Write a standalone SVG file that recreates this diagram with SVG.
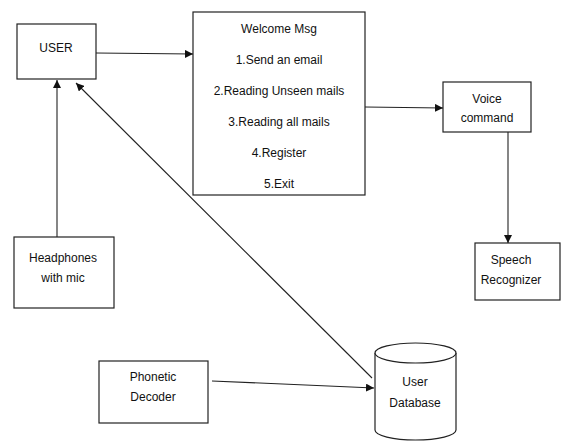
<svg xmlns="http://www.w3.org/2000/svg" width="561" height="441" viewBox="0 0 561 441">
<style>
.box{fill:#fff;stroke:#222;stroke-width:1.2}
.t{font-family:"Liberation Sans",Arial,sans-serif;font-size:12px;fill:#111;text-anchor:middle}
.c{fill:none;stroke:#222;stroke-width:1.1}
</style>
<defs>
<marker id="ah" viewBox="0 0 10 10" refX="10" refY="5" markerWidth="8" markerHeight="8" markerUnits="userSpaceOnUse" orient="auto">
<path d="M0,0 L10,5 L0,10 z" fill="#111"/>
</marker>
</defs>
<rect width="561" height="441" fill="#fff"/>
<g id="user"><rect class="box" x="17" y="24" width="79" height="55"/><text class="t" x="56" y="52">USER</text></g>
<g id="welcome"><rect class="box" x="193" y="12" width="172" height="183"/>
<text class="t" x="279" y="33">Welcome Msg</text>
<text class="t" x="279" y="64">1.Send an email</text>
<text class="t" x="279" y="95">2.Reading Unseen mails</text>
<text class="t" x="279" y="126">3.Reading all mails</text>
<text class="t" x="279" y="157">4.Register</text>
<text class="t" x="279" y="188">5.Exit</text></g>
<g id="voice"><rect class="box" x="443" y="82" width="88" height="50"/>
<text class="t" x="487" y="103">Voice</text><text class="t" x="487" y="122">command</text></g>
<g id="speech"><rect class="box" x="475" y="243" width="85" height="57"/>
<text class="t" x="511" y="264">Speech</text><text class="t" x="511" y="284">Recognizer</text></g>
<g id="headphones"><rect class="box" x="14" y="237" width="100" height="71"/>
<text class="t" x="63" y="262">Headphones</text><text class="t" x="63" y="282">with mic</text></g>
<g id="phonetic"><rect class="box" x="99" y="361" width="109" height="62"/>
<text class="t" x="153" y="381">Phonetic</text><text class="t" x="153" y="401">Decoder</text></g>
<g id="database">
<path class="box" d="M375,353 L375,430 A40.5,10 0 0 0 456,430 L456,353"/>
<ellipse class="box" cx="415.5" cy="353" rx="40.5" ry="10"/>
<text class="t" x="415" y="386">User</text><text class="t" x="415" y="407">Database</text></g>
<g id="connectors">
<path class="c" d="M96,53 L193,54" marker-end="url(#ah)"/>
<path class="c" d="M365,107 L443,108" marker-end="url(#ah)"/>
<path class="c" d="M508,132 L508,243" marker-end="url(#ah)"/>
<path class="c" d="M57,237 L57,80" marker-end="url(#ah)"/>
<path class="c" d="M372,378 L76,83" marker-end="url(#ah)"/>
<path class="c" d="M212,381 L374,388" marker-end="url(#ah)"/>
</g>
</svg>
